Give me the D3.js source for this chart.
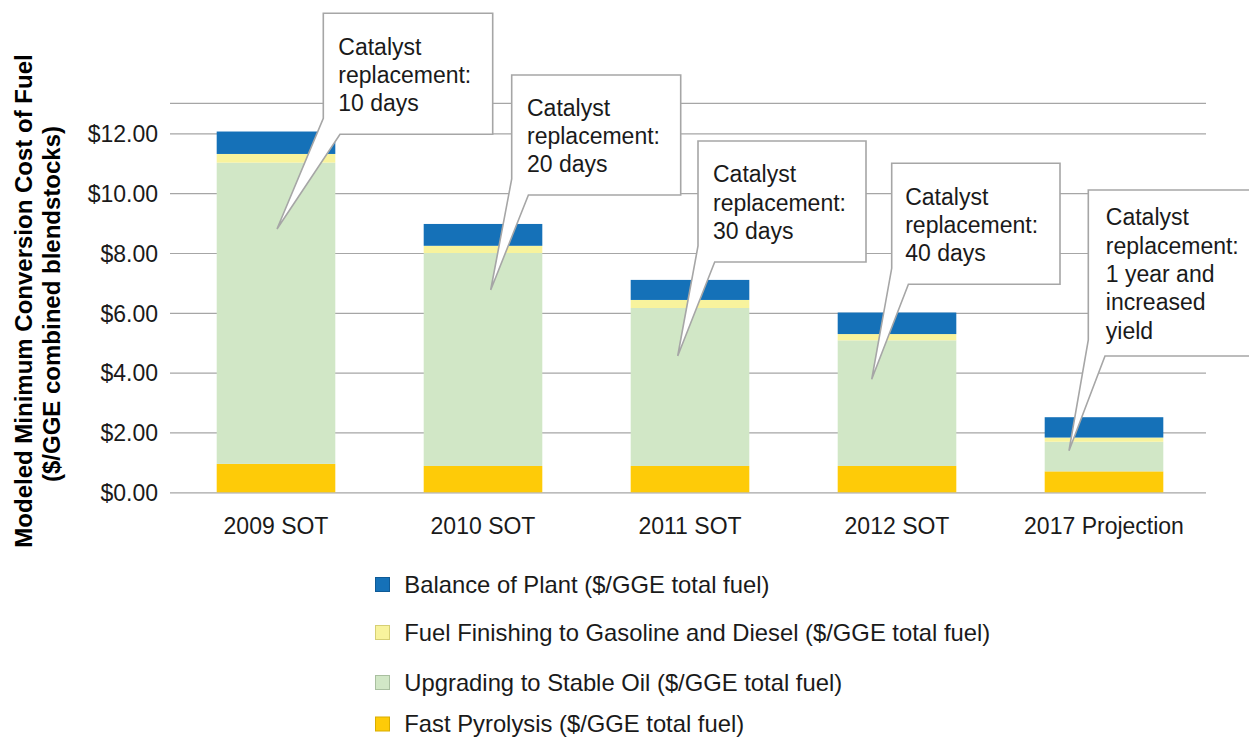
<!DOCTYPE html>
<html>
<head>
<meta charset="utf-8">
<script src="https://cdn.jsdelivr.net/npm/d3@7"></script>
<style>
  html, body { margin: 0; padding: 0; background: #fff; }
  svg { display: block; font-family: "Liberation Sans", Arial, Helvetica, sans-serif; }
</style>
</head>
<body>
<svg id="chart" width="1249" height="738"></svg>
<script>
// Cost components per case ($/GGE total fuel)
const categories = ["2009 SOT", "2010 SOT", "2011 SOT", "2012 SOT", "2017 Projection"];
const fastPyrolysis = [0.95, 0.88, 0.88, 0.88, 0.70];
const upgrading     = [10.07, 7.12, 5.28, 4.20, 0.99];
const finishing     = [0.29, 0.24, 0.27, 0.21, 0.14];
const balanceOfPlant = [0.75, 0.73, 0.67, 0.72, 0.68];

const seriesNames = [
  "Fast Pyrolysis ($/GGE total fuel)",
  "Upgrading to Stable Oil ($/GGE total fuel)",
  "Fuel Finishing to Gasoline and Diesel ($/GGE total fuel)",
  "Balance of Plant ($/GGE total fuel)"
];
const seriesColors = ["#fecb08", "#d1e7c6", "#f8f39d", "#1571b8"];
const legendStroke = ["#d9ad00", "#a9bfa0", "#d6cf75", "#0f5a96"];

const yTicks = [0, 2, 4, 6, 8, 10, 12];
const yMax = 13;

// Callout annotations
const calloutLines = [
  ["Catalyst", "replacement:", "10 days"],
  ["Catalyst", "replacement:", "20 days"],
  ["Catalyst", "replacement:", "30 days"],
  ["Catalyst", "replacement:", "40 days"],
  ["Catalyst", "replacement:", "1 year and", "increased", "yield"]
];

const svg = d3.select("#chart");

const plotLeft = 172.5, plotRight = 1207.5;
const gridLeft = 170, gridRight = 1206;
const yZero = 492.3, yTop = 103.4;

const x = d3.scaleBand()
  .domain(categories)
  .range([plotLeft, plotRight])
  .paddingInner(0.427)
  .paddingOuter(0.2135);

const y = d3.scaleLinear().domain([0, yMax]).range([yZero, yTop]);

// Table for stacking
const table = categories.map((c, i) => ({
  cat: c,
  fp: fastPyrolysis[i],
  up: upgrading[i],
  fin: finishing[i],
  bop: balanceOfPlant[i]
}));
const keys = ["fp", "up", "fin", "bop"];
const stacked = d3.stack().keys(keys)(table);

// Gridlines + y labels
const yAxis = d3.axisLeft(y)
  .tickValues(yTicks)
  .tickSize(-(gridRight - gridLeft))
  .tickPadding(12)
  .tickFormat(d => "$" + d.toFixed(2));

const gy = svg.append("g")
  .attr("transform", `translate(${gridLeft},0)`)
  .call(yAxis);
gy.select(".domain").remove();
gy.selectAll(".tick line").attr("stroke", "#a6a6a6").attr("stroke-width", 1.2);
gy.selectAll(".tick text")
  .attr("fill", "#1a1a1a")
  .attr("font-size", "23px")
  .attr("font-family", "\"Liberation Sans\", Arial, sans-serif")
  .attr("dy", "0.357em");

// Top border of the plot area
svg.append("line")
  .attr("x1", gridLeft).attr("x2", gridRight)
  .attr("y1", y(yMax)).attr("y2", y(yMax))
  .attr("stroke", "#a6a6a6").attr("stroke-width", 1.2);

// Stacked bars
const layers = svg.append("g").selectAll("g")
  .data(stacked)
  .join("g")
  .attr("fill", (d, i) => seriesColors[i]);

layers.selectAll("rect")
  .data(d => d)
  .join("rect")
  .attr("x", d => x(d.data.cat))
  .attr("width", x.bandwidth())
  .attr("y", d => y(d[1]))
  .attr("height", d => y(d[0]) - y(d[1]));

// X labels
const xAxis = d3.axisBottom(x).tickSize(0).tickPadding(25);
const gx = svg.append("g")
  .attr("transform", `translate(0,${yZero})`)
  .call(xAxis);
gx.select(".domain").remove();
gx.selectAll(".tick text")
  .attr("fill", "#1a1a1a")
  .attr("font-size", "23px")
  .attr("font-family", "\"Liberation Sans\", Arial, sans-serif");

// Y title
const yTitle = svg.append("g")
  .attr("font-weight", "bold")
  .attr("font-size", "24px")
  .attr("fill", "#000")
  .attr("text-anchor", "middle");
yTitle.append("text")
  .attr("transform", "translate(31.5,301) rotate(-90)")
  .text("Modeled Minimum Conversion Cost of Fuel");
yTitle.append("text")
  .attr("transform", "translate(60,304) rotate(-90)")
  .text("($/GGE combined blendstocks)");

// Legend
const legendOrder = [3, 2, 1, 0];
const legendRowY = [584.5, 632.5, 682.5, 724];
const legend = svg.append("g");
legendOrder.forEach((s, r) => {
  legend.append("rect")
    .attr("x", 375.5).attr("y", legendRowY[r] - 7)
    .attr("width", 14).attr("height", 14)
    .attr("fill", seriesColors[s])
    .attr("stroke", legendStroke[s])
    .attr("stroke-width", 1);
  legend.append("text")
    .attr("x", 404.3).attr("y", legendRowY[r] + 8.3)
    .attr("font-size", "23.8px")
    .attr("fill", "#1a1a1a")
    .text(seriesNames[s]);
});

// Callout boxes with pointer wedges
const calloutBoxes = [
  { x0: 323.3, y0: 13.3,  x1: 492.7, y1: 134.3, tx: 277,    ty: 229,   pad: 15 },
  { x0: 511.7, y0: 75,    x1: 680.7, y1: 195,   tx: 490.7,  ty: 290,   pad: 15.3 },
  { x0: 698,   y0: 141,   x1: 866,   y1: 262,   tx: 677.7,  ty: 356,   pad: 15 },
  { x0: 891.7, y0: 163.3, x1: 1060,  y1: 284.3, tx: 871.7,  ty: 379.3, pad: 13.5 },
  { x0: 1088.3, y0: 190,  x1: 1262,  y1: 356,   tx: 1069,   ty: 450.7, pad: 17.5 }
];
const lineH = 28.3;
const callouts = svg.append("g");
calloutBoxes.forEach((b, i) => {
  const yl = b.y1 - 16, xb = b.x0 + 16.7;
  const path = d3.path();
  path.moveTo(b.x0, b.y0);
  path.lineTo(b.x1, b.y0);
  path.lineTo(b.x1, b.y1);
  path.lineTo(xb, b.y1);
  path.lineTo(b.tx, b.ty);
  path.lineTo(b.x0, yl);
  path.closePath();
  callouts.append("path")
    .attr("d", path.toString())
    .attr("fill", "#fff")
    .attr("stroke", "#a6a6a6")
    .attr("stroke-width", 1.6)
    .attr("stroke-linejoin", "miter");

  const lines = calloutLines[i];
  const midBase = (b.y0 + b.y1) / 2 + 9;
  const first = midBase - (lines.length - 1) * lineH / 2;
  const t = callouts.append("text")
    .attr("font-size", "23px")
    .attr("fill", "#1a1a1a");
  lines.forEach((ln, k) => {
    t.append("tspan")
      .attr("x", b.x0 + b.pad)
      .attr("y", first + k * lineH)
      .text(ln);
  });
});
</script>
</body>
</html>
